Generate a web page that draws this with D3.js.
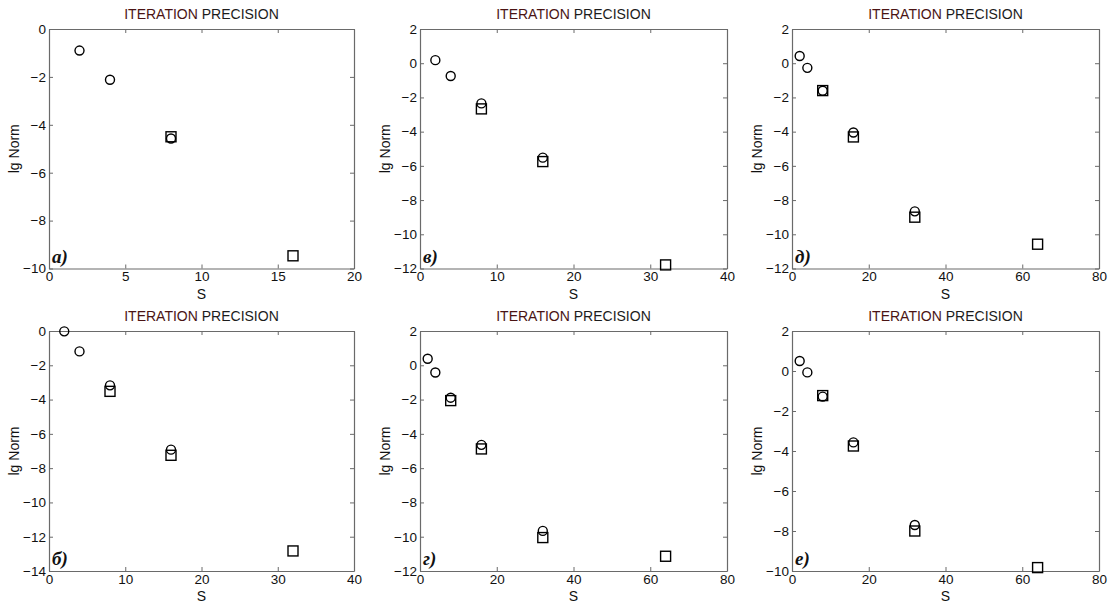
<!DOCTYPE html>
<html>
<head>
<meta charset="utf-8">
<script src="https://cdn.jsdelivr.net/npm/d3@7"></script>
<style>
  html, body { margin: 0; padding: 0; background: #fff; }
  svg { display: block; font-family: "Liberation Sans", Arial, sans-serif; }
</style>
</head>
<body>
<svg id="chart" width="1112" height="606"></svg>
<script>
// ---- data ----
const panelLetters = ["а)", "в)", "д)", "б)", "г)", "е)"];
const titleText = ["ITERATION", "PRECISION"];
const xLabel = "S";
const yLabel = "lg Norm";

const xDomains = [[0, 20], [0, 40], [0, 80], [0, 40], [0, 80], [0, 80]];
const yDomains = [[-10, 0], [-12, 2], [-12, 2], [-14, 0], [-12, 2], [-10, 2]];
const xTicks = [
  [0, 5, 10, 15, 20],
  [0, 10, 20, 30, 40],
  [0, 20, 40, 60, 80],
  [0, 10, 20, 30, 40],
  [0, 20, 40, 60, 80],
  [0, 20, 40, 60, 80]
];
const yTicks = [
  [0, -2, -4, -6, -8, -10],
  [2, 0, -2, -4, -6, -8, -10, -12],
  [2, 0, -2, -4, -6, -8, -10, -12],
  [0, -2, -4, -6, -8, -10, -12, -14],
  [2, 0, -2, -4, -6, -8, -10, -12],
  [2, 0, -2, -4, -6, -8, -10]
];

// circles: S values and lg Norm values per panel
const circleS = [
  [2, 4, 8],
  [2, 4, 8, 16],
  [2, 4, 8, 16, 32],
  [2, 4, 8, 16],
  [2, 4, 8, 16, 32],
  [2, 4, 8, 16, 32]
];
const circleNorm = [
  [-0.9, -2.12, -4.57],
  [0.18, -0.75, -2.35, -5.52],
  [0.42, -0.27, -1.61, -4.05, -8.66],
  [-0.02, -1.19, -3.17, -6.92],
  [0.38, -0.42, -1.89, -4.64, -9.66],
  [0.5, -0.07, -1.28, -3.57, -7.7]
];
// squares
const squareS = [
  [8, 16],
  [8, 16, 32],
  [8, 16, 32, 64],
  [8, 16, 32],
  [8, 16, 32, 64],
  [8, 16, 32, 64]
];
const squareNorm = [
  [-4.5, -9.47],
  [-2.67, -5.75, -11.79],
  [-1.6, -4.31, -9.0, -10.58],
  [-3.52, -7.25, -12.83],
  [-2.06, -4.88, -10.05, -11.14],
  [-1.23, -3.75, -8.0, -9.83]
];

// ---- layout ----
const colX = [[49, 354], [420, 727], [792, 1099]];
const rowY = [[29, 268.5], [331, 571]];

const svg = d3.select("#chart");
const axisColor = "#6a6a6a";
const tickFont = 13.5;

panelLetters.forEach((letter, i) => {
  const col = i % 3, row = Math.floor(i / 3);
  const [x0, x1] = colX[col];
  const [y0, y1] = rowY[row];
  const w = x1 - x0, h = y1 - y0;

  const x = d3.scaleLinear().domain(xDomains[i]).range([0, w]);
  const y = d3.scaleLinear().domain(yDomains[i]).range([h, 0]);

  const g = svg.append("g").attr("transform", `translate(${x0},${y0})`);

  const styleAxis = sel => {
    sel.selectAll("path.domain").attr("stroke", axisColor).attr("stroke-width", 1.2);
    sel.selectAll(".tick line").attr("stroke", axisColor);
    sel.selectAll(".tick text").attr("fill", "#111").style("font-size", tickFont + "px")
      .style("font-family", '"Liberation Sans", Arial, sans-serif');
  };

  g.append("g").attr("transform", `translate(0,${h})`)
    .call(d3.axisBottom(x).tickValues(xTicks[i]).tickSizeInner(-4).tickSizeOuter(0).tickPadding(3))
    .call(styleAxis);
  g.append("g")
    .call(d3.axisTop(x).tickValues(xTicks[i]).tickSizeInner(-4).tickSizeOuter(0).tickFormat(""))
    .call(styleAxis);
  g.append("g")
    .call(d3.axisLeft(y).tickValues(yTicks[i]).tickSizeInner(-4).tickSizeOuter(0).tickPadding(3))
    .call(styleAxis);
  g.append("g").attr("transform", `translate(${w},0)`)
    .call(d3.axisRight(y).tickValues(yTicks[i]).tickSizeInner(-4).tickSizeOuter(0).tickFormat(""))
    .call(styleAxis);
  g.selectAll("text").attr("font-size", null);

  // title
  const t = g.append("text")
    .attr("x", w / 2).attr("y", -10)
    .attr("text-anchor", "middle")
    .style("font-size", "14px");
  t.append("tspan").attr("fill", "#4a1414").text(titleText[0]);
  t.append("tspan").attr("fill", "#1c1c1c").text(" " + titleText[1]);

  // x label
  g.append("text").attr("x", w / 2).attr("y", h + 30)
    .attr("text-anchor", "middle").style("font-size", "14px").attr("fill", "#111")
    .text(xLabel);

  // y label
  g.append("text")
    .attr("transform", `translate(-30,${h / 2}) rotate(-90)`)
    .attr("text-anchor", "middle").style("font-size", "14px").attr("fill", "#111")
    .text(yLabel);

  // panel letter
  g.append("text").attr("x", 3).attr("y", h - 6)
    .style("font-family", '"Liberation Serif", "Times New Roman", serif')
    .style("font-style", "italic").style("font-weight", "bold")
    .style("font-size", "19px").attr("fill", "#111")
    .text(letter);

  // squares
  const sq = 10;
  g.selectAll("rect.sq").data(squareS[i].map((s, k) => [s, squareNorm[i][k]]))
    .join("rect").attr("class", "sq")
    .attr("x", d => x(d[0]) - sq / 2).attr("y", d => y(d[1]) - sq / 2)
    .attr("width", sq).attr("height", sq)
    .attr("fill", "none").attr("stroke", "#000").attr("stroke-width", 1.4);

  // circles
  g.selectAll("circle.ci").data(circleS[i].map((s, k) => [s, circleNorm[i][k]]))
    .join("circle").attr("class", "ci")
    .attr("cx", d => x(d[0])).attr("cy", d => y(d[1])).attr("r", 4.5)
    .attr("fill", "none").attr("stroke", "#000").attr("stroke-width", 1.4);
});
</script>
</body>
</html>
